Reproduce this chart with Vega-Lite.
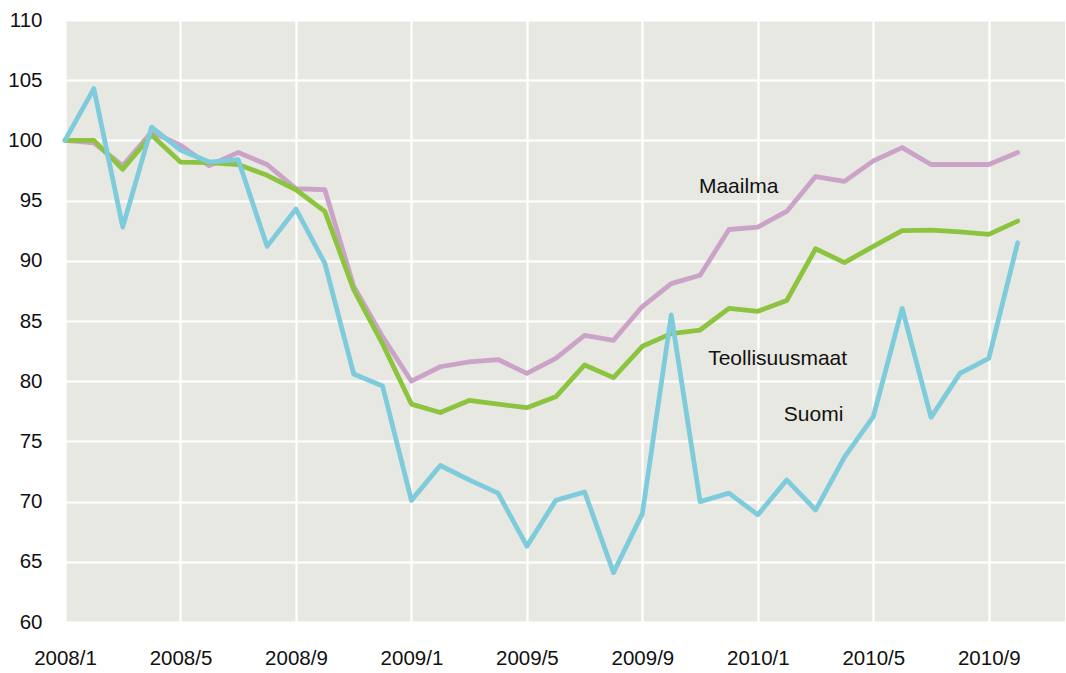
{
  "$schema": "https://vega.github.io/schema/vega-lite/v6.json",
  "width": 1000,
  "height": 602,
  "autosize": {"type": "none"},
  "padding": {"left": 65, "top": 20, "right": 1, "bottom": 51},
  "background": "white",
  "config": {
    "view": {"fill": "#e8e8e2", "stroke": null},
    "axis": {
      "domain": false,
      "ticks": false,
      "grid": true,
      "gridColor": "white",
      "gridWidth": 2.2,
      "labelFont": "Liberation Sans",
      "labelFontSize": 20.5,
      "labelColor": "#111111",
      "title": null
    }
  },
  "datasets": {
    "series": [
      {"t": 0, "s": "Maailma", "v": 100}, {"t": 1, "s": "Maailma", "v": 99.8}, {"t": 2, "s": "Maailma", "v": 97.9}, {"t": 3, "s": "Maailma", "v": 100.7},
      {"t": 4, "s": "Maailma", "v": 99.6}, {"t": 5, "s": "Maailma", "v": 97.9}, {"t": 6, "s": "Maailma", "v": 99.0}, {"t": 7, "s": "Maailma", "v": 98.0},
      {"t": 8, "s": "Maailma", "v": 96.0}, {"t": 9, "s": "Maailma", "v": 95.9}, {"t": 10, "s": "Maailma", "v": 87.9}, {"t": 11, "s": "Maailma", "v": 83.7},
      {"t": 12, "s": "Maailma", "v": 80.0}, {"t": 13, "s": "Maailma", "v": 81.2}, {"t": 14, "s": "Maailma", "v": 81.6}, {"t": 15, "s": "Maailma", "v": 81.8},
      {"t": 16, "s": "Maailma", "v": 80.65}, {"t": 17, "s": "Maailma", "v": 81.9}, {"t": 18, "s": "Maailma", "v": 83.8}, {"t": 19, "s": "Maailma", "v": 83.4},
      {"t": 20, "s": "Maailma", "v": 86.2}, {"t": 21, "s": "Maailma", "v": 88.1}, {"t": 22, "s": "Maailma", "v": 88.8}, {"t": 23, "s": "Maailma", "v": 92.6},
      {"t": 24, "s": "Maailma", "v": 92.8}, {"t": 25, "s": "Maailma", "v": 94.1}, {"t": 26, "s": "Maailma", "v": 97.0}, {"t": 27, "s": "Maailma", "v": 96.6},
      {"t": 28, "s": "Maailma", "v": 98.3}, {"t": 29, "s": "Maailma", "v": 99.4}, {"t": 30, "s": "Maailma", "v": 98.0}, {"t": 31, "s": "Maailma", "v": 98.0},
      {"t": 32, "s": "Maailma", "v": 98.0}, {"t": 33, "s": "Maailma", "v": 99.0},
      {"t": 0, "s": "Teollisuusmaat", "v": 100}, {"t": 1, "s": "Teollisuusmaat", "v": 100.0}, {"t": 2, "s": "Teollisuusmaat", "v": 97.6}, {"t": 3, "s": "Teollisuusmaat", "v": 100.45},
      {"t": 4, "s": "Teollisuusmaat", "v": 98.2}, {"t": 5, "s": "Teollisuusmaat", "v": 98.15}, {"t": 6, "s": "Teollisuusmaat", "v": 98.0}, {"t": 7, "s": "Teollisuusmaat", "v": 97.1},
      {"t": 8, "s": "Teollisuusmaat", "v": 95.9}, {"t": 9, "s": "Teollisuusmaat", "v": 94.1}, {"t": 10, "s": "Teollisuusmaat", "v": 87.6}, {"t": 11, "s": "Teollisuusmaat", "v": 83.1},
      {"t": 12, "s": "Teollisuusmaat", "v": 78.1}, {"t": 13, "s": "Teollisuusmaat", "v": 77.4}, {"t": 14, "s": "Teollisuusmaat", "v": 78.4}, {"t": 15, "s": "Teollisuusmaat", "v": 78.1},
      {"t": 16, "s": "Teollisuusmaat", "v": 77.8}, {"t": 17, "s": "Teollisuusmaat", "v": 78.7}, {"t": 18, "s": "Teollisuusmaat", "v": 81.35}, {"t": 19, "s": "Teollisuusmaat", "v": 80.3},
      {"t": 20, "s": "Teollisuusmaat", "v": 82.9}, {"t": 21, "s": "Teollisuusmaat", "v": 83.95}, {"t": 22, "s": "Teollisuusmaat", "v": 84.25}, {"t": 23, "s": "Teollisuusmaat", "v": 86.05},
      {"t": 24, "s": "Teollisuusmaat", "v": 85.8}, {"t": 25, "s": "Teollisuusmaat", "v": 86.7}, {"t": 26, "s": "Teollisuusmaat", "v": 91.0}, {"t": 27, "s": "Teollisuusmaat", "v": 89.85},
      {"t": 28, "s": "Teollisuusmaat", "v": 91.2}, {"t": 29, "s": "Teollisuusmaat", "v": 92.5}, {"t": 30, "s": "Teollisuusmaat", "v": 92.55}, {"t": 31, "s": "Teollisuusmaat", "v": 92.4},
      {"t": 32, "s": "Teollisuusmaat", "v": 92.2}, {"t": 33, "s": "Teollisuusmaat", "v": 93.3},
      {"t": 0, "s": "Suomi", "v": 100}, {"t": 1, "s": "Suomi", "v": 104.3}, {"t": 2, "s": "Suomi", "v": 92.8}, {"t": 3, "s": "Suomi", "v": 101.1},
      {"t": 4, "s": "Suomi", "v": 99.2}, {"t": 5, "s": "Suomi", "v": 98.2}, {"t": 6, "s": "Suomi", "v": 98.4}, {"t": 7, "s": "Suomi", "v": 91.2},
      {"t": 8, "s": "Suomi", "v": 94.3}, {"t": 9, "s": "Suomi", "v": 89.8}, {"t": 10, "s": "Suomi", "v": 80.6}, {"t": 11, "s": "Suomi", "v": 79.6},
      {"t": 12, "s": "Suomi", "v": 70.1}, {"t": 13, "s": "Suomi", "v": 73.0}, {"t": 14, "s": "Suomi", "v": 71.8}, {"t": 15, "s": "Suomi", "v": 70.7},
      {"t": 16, "s": "Suomi", "v": 66.3}, {"t": 17, "s": "Suomi", "v": 70.1}, {"t": 18, "s": "Suomi", "v": 70.8}, {"t": 19, "s": "Suomi", "v": 64.1},
      {"t": 20, "s": "Suomi", "v": 69.0}, {"t": 21, "s": "Suomi", "v": 85.5}, {"t": 22, "s": "Suomi", "v": 70.0}, {"t": 23, "s": "Suomi", "v": 70.7},
      {"t": 24, "s": "Suomi", "v": 68.9}, {"t": 25, "s": "Suomi", "v": 71.8}, {"t": 26, "s": "Suomi", "v": 69.3}, {"t": 27, "s": "Suomi", "v": 73.7},
      {"t": 28, "s": "Suomi", "v": 77.05}, {"t": 29, "s": "Suomi", "v": 86.05}, {"t": 30, "s": "Suomi", "v": 77.0}, {"t": 31, "s": "Suomi", "v": 80.65},
      {"t": 32, "s": "Suomi", "v": 81.9}, {"t": 33, "s": "Suomi", "v": 91.5}
    ],
    "labels": [
      {"label": "Maailma", "t": 21.96, "v": 95.66},
      {"label": "Teollisuusmaat", "t": 22.28, "v": 81.35},
      {"label": "Suomi", "t": 24.9, "v": 76.72}
    ]
  },
  "layer": [
    {
      "data": {"name": "series"},
      "mark": {"type": "line", "strokeWidth": 4.8, "strokeCap": "round", "strokeJoin": "round"},
      "encoding": {
        "x": {
          "field": "t",
          "type": "quantitative",
          "scale": {"domain": [0, 34.64], "nice": false, "zero": false},
          "axis": {
            "values": [0, 4, 8, 12, 16, 20, 24, 28, 32],
            "labelExpr": "(2008 + floor(datum.value / 12)) + '/' + (datum.value % 12 + 1)",
            "labelPadding": 26,
            "labelAlign": "center"
          }
        },
        "y": {
          "field": "v",
          "type": "quantitative",
          "scale": {"domain": [60, 110], "nice": false, "zero": false},
          "axis": {
            "values": [60, 65, 70, 75, 80, 85, 90, 95, 100, 105, 110],
            "labelPadding": 23
          }
        },
        "color": {
          "field": "s",
          "type": "nominal",
          "scale": {"domain": ["Maailma", "Teollisuusmaat", "Suomi"], "range": ["#cba3c8", "#8dc43f", "#7ecbdc"]},
          "legend": null
        }
      }
    },
    {
      "data": {"name": "labels"},
      "mark": {"type": "text", "align": "left", "baseline": "alphabetic", "font": "Liberation Sans", "fontSize": 21, "color": "#111111"},
      "encoding": {
        "x": {"field": "t", "type": "quantitative"},
        "y": {"field": "v", "type": "quantitative"},
        "text": {"field": "label"}
      }
    }
  ]
}
